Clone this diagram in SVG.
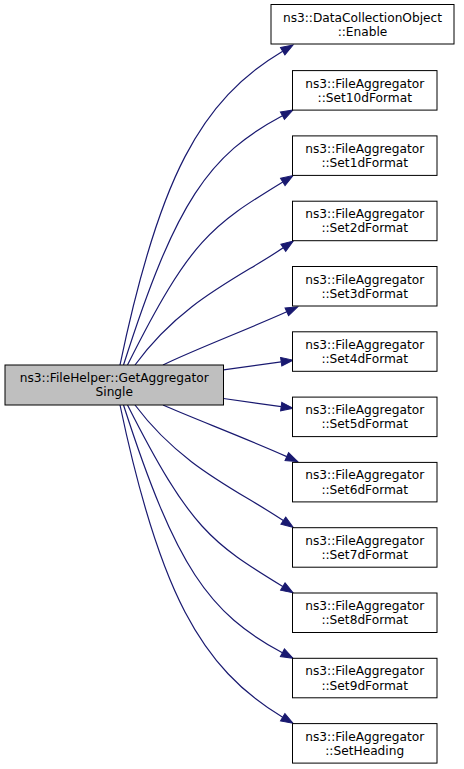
<svg xmlns="http://www.w3.org/2000/svg" width="464" height="769" viewBox="0 0 464 769">
<style>
.n rect{fill:#ffffff;stroke:#000000;stroke-width:1}
.n.root rect{fill:#bfbfbf}
.n text{font-family:"DejaVu Sans","Liberation Sans",sans-serif;font-size:12.2px;fill:#000000;text-anchor:middle}
.e path{fill:none;stroke:#191970;stroke-width:1.2;marker-end:url(#ah)}
</style>
<defs>
<marker id="ah" markerUnits="userSpaceOnUse" markerWidth="13" markerHeight="10" refX="0" refY="4.3" orient="auto" overflow="visible">
<path d="M0,0 L12,4.3 L0,8.6 z" fill="#191970" stroke="#191970" stroke-width="1"/>
</marker>
</defs>
<rect x="0" y="0" width="464" height="769" fill="#ffffff"/>
<g id="edges" class="e">
<path d="M120,365 C158.6,179 200.5,100 282.7,51.2"/>
<path d="M123.5,365 C175.8,201.2 208.9,154.9 282.4,115.7"/>
<path d="M127.5,365 C190.3,239.2 211.6,225.5 282.8,181.9"/>
<path d="M135,365 C182.1,300.6 238.4,278.1 283.3,247.8"/>
<path d="M163,365 C190,351.4 250,328.4 286.8,311.8"/>
<path d="M223.5,369.9 L281.2,361.8"/>
<path d="M223.5,398.5 L281.2,406.6"/>
<path d="M163,405 C190,417 250,440 286.8,456.6"/>
<path d="M135,405 C182.1,467.8 238.4,490.3 283.3,520.6"/>
<path d="M127.5,405 C190.3,529.2 211.6,542.9 282.8,586.5"/>
<path d="M123.5,405 C175.8,567.2 208.9,613.5 282.4,652.7"/>
<path d="M120,405 C158.6,589.4 200.5,668.4 282.7,717.2"/>
</g>
<g id="node-root" class="n root">
<rect x="5" y="365" width="218.5" height="40"/>
<text x="114.25" y="381.9">ns3::FileHelper::GetAggregator</text>
<text x="114.25" y="396.1">Single</text>
</g>
<g id="node-enable" class="n">
<rect x="271" y="4.5" width="183" height="39.5"/>
<text x="362.5" y="21.5">ns3::DataCollectionObject</text>
<text x="362.5" y="35.7">::Enable</text>
</g>
<g id="node-set10d" class="n">
<rect x="292.5" y="70.6" width="144.5" height="39.5"/>
<text x="364.75" y="87.6">ns3::FileAggregator</text>
<text x="364.75" y="101.8">::Set10dFormat</text>
</g>
<g id="node-set1d" class="n">
<rect x="292.5" y="135.9" width="144.5" height="39.5"/>
<text x="364.75" y="152.9">ns3::FileAggregator</text>
<text x="364.75" y="167.1">::Set1dFormat</text>
</g>
<g id="node-set2d" class="n">
<rect x="292.5" y="201.2" width="144.5" height="39.5"/>
<text x="364.75" y="218.2">ns3::FileAggregator</text>
<text x="364.75" y="232.4">::Set2dFormat</text>
</g>
<g id="node-set3d" class="n">
<rect x="292.5" y="266.5" width="144.5" height="39.5"/>
<text x="364.75" y="283.5">ns3::FileAggregator</text>
<text x="364.75" y="297.7">::Set3dFormat</text>
</g>
<g id="node-set4d" class="n">
<rect x="292.5" y="331.8" width="144.5" height="39.5"/>
<text x="364.75" y="348.8">ns3::FileAggregator</text>
<text x="364.75" y="363">::Set4dFormat</text>
</g>
<g id="node-set5d" class="n">
<rect x="292.5" y="397.1" width="144.5" height="39.5"/>
<text x="364.75" y="414.1">ns3::FileAggregator</text>
<text x="364.75" y="428.3">::Set5dFormat</text>
</g>
<g id="node-set6d" class="n">
<rect x="292.5" y="462.4" width="144.5" height="39.5"/>
<text x="364.75" y="479.4">ns3::FileAggregator</text>
<text x="364.75" y="493.6">::Set6dFormat</text>
</g>
<g id="node-set7d" class="n">
<rect x="292.5" y="527.7" width="144.5" height="39.5"/>
<text x="364.75" y="544.7">ns3::FileAggregator</text>
<text x="364.75" y="558.9">::Set7dFormat</text>
</g>
<g id="node-set8d" class="n">
<rect x="292.5" y="593" width="144.5" height="39.5"/>
<text x="364.75" y="610">ns3::FileAggregator</text>
<text x="364.75" y="624.2">::Set8dFormat</text>
</g>
<g id="node-set9d" class="n">
<rect x="292.5" y="658.3" width="144.5" height="39.5"/>
<text x="364.75" y="675.3">ns3::FileAggregator</text>
<text x="364.75" y="689.5">::Set9dFormat</text>
</g>
<g id="node-setheading" class="n">
<rect x="292.5" y="723.6" width="144.5" height="39.5"/>
<text x="364.75" y="740.6">ns3::FileAggregator</text>
<text x="364.75" y="754.8">::SetHeading</text>
</g>
</svg>
